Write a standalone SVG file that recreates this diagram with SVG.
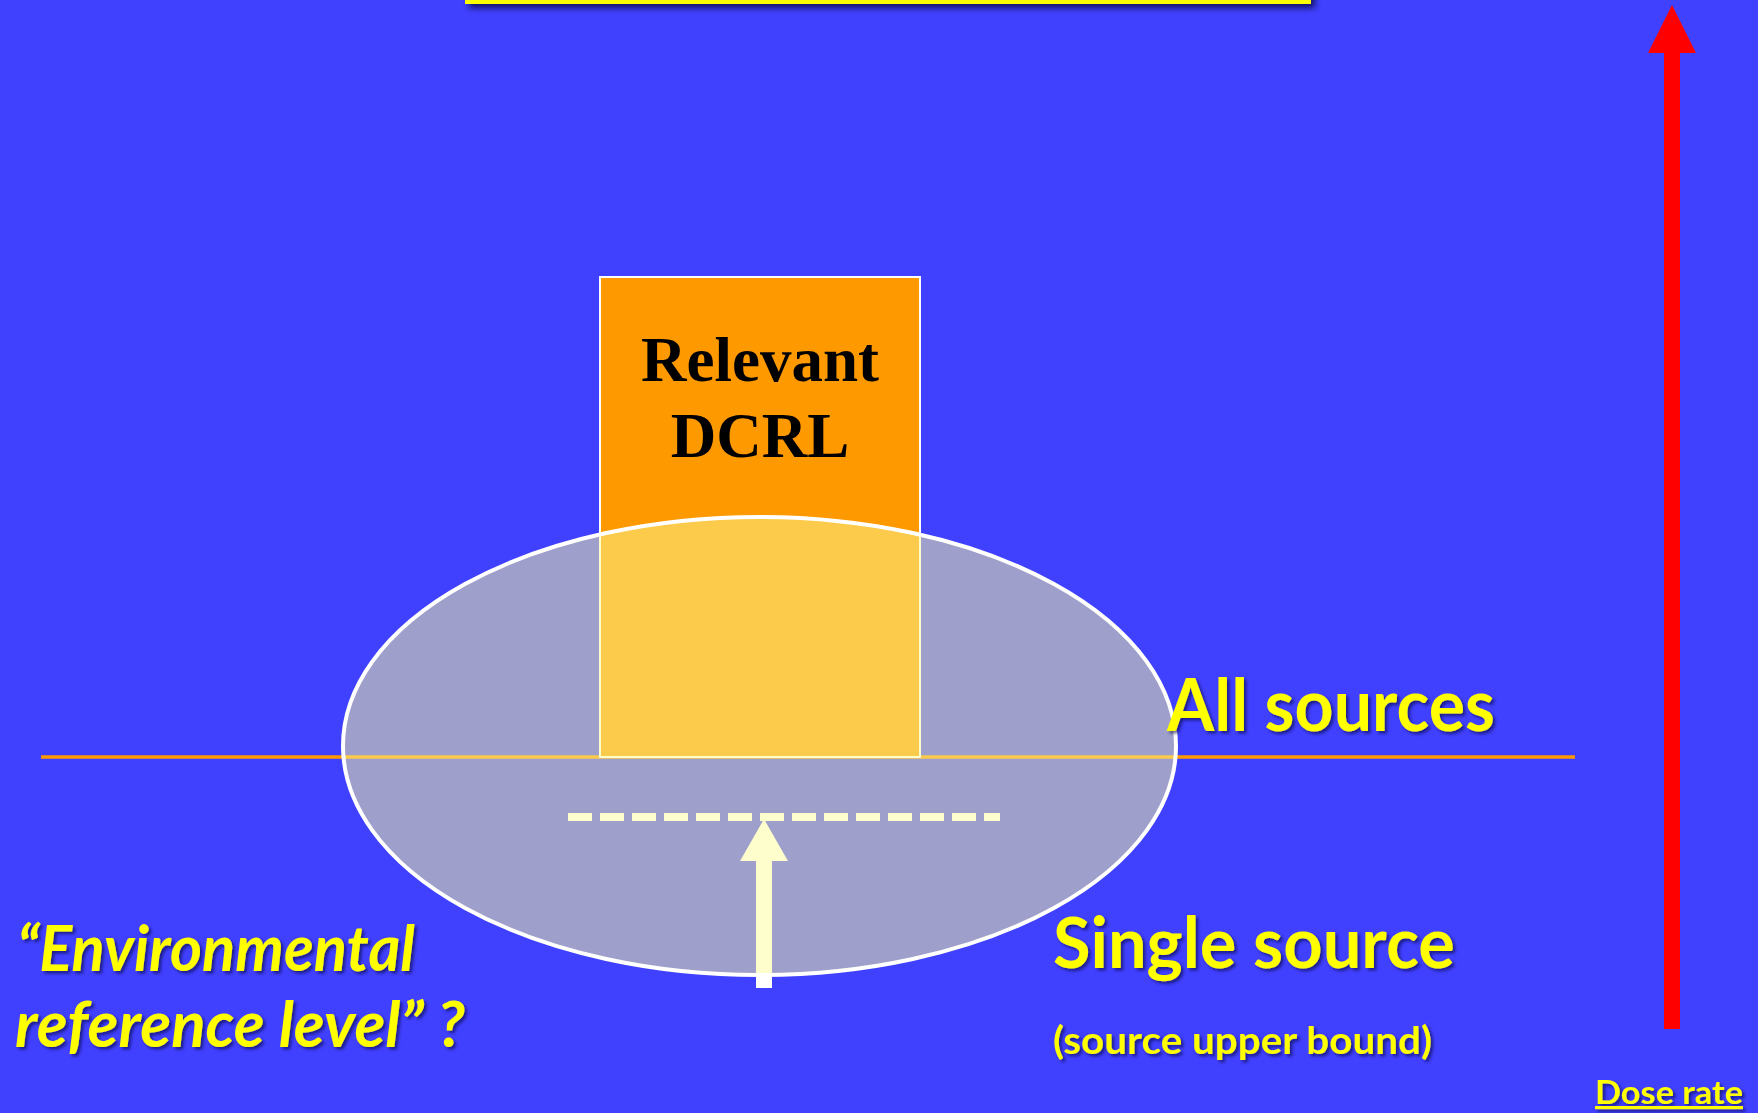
<svg xmlns="http://www.w3.org/2000/svg" width="1758" height="1113" viewBox="0 0 1758 1113">
  <style>
    .lbl { font-family: Lato, "Open Sans", "Liberation Sans", sans-serif; font-weight: bold; fill: #FFFF00; filter: url(#shadow); }
    .ital { font-style: italic; }
    .dcrl { font-family: "Liberation Serif", "Times New Roman", serif; font-weight: bold; font-size: 63px; fill: #000000; text-anchor: middle; }
  </style>
  <defs>
    <filter id="shadow" x="-10%" y="-20%" width="130%" height="160%">
      <feDropShadow dx="2.5" dy="2.5" stdDeviation="1.5" flood-color="#000030" flood-opacity="0.55"/>
    </filter>
    <filter id="barShadow" x="-5%" y="-100%" width="110%" height="400%">
      <feDropShadow dx="4" dy="4" stdDeviation="3" flood-color="#000020" flood-opacity="0.7"/>
    </filter>
  </defs>
  <rect x="0" y="0" width="1758" height="1113" fill="#4040FF"/>

  <g id="top-bar">
    <rect x="465" y="-20" width="846" height="24" fill="#FFFF00" filter="url(#barShadow)"/>
  </g>

  <g id="connectors">
    <line id="all-sources-line" x1="41" y1="757" x2="1575" y2="757" stroke="#FF9900" stroke-width="3.5"/>
    <line id="single-source-line" x1="568" y1="817" x2="1000" y2="817" stroke="#FFFFFF" stroke-width="8" stroke-dasharray="24 8"/>
    <polygon id="up-arrow" points="756,988 756,861 740,861 764,819 788,861 772,861 772,988" fill="#FFFFFF"/>
    <polygon id="dose-arrow" points="1664,1029 1664,53 1648,53 1672,5 1696,53 1680,53 1680,1029" fill="#FF0000"/>
  </g>

  <g id="dcrl-box">
    <rect x="600" y="277" width="320" height="480" fill="#FF9900" stroke="#FFFFFF" stroke-width="2"/>
    <text class="dcrl" x="760" y="381">Relevant</text>
    <text class="dcrl" x="760" y="457">DCRL</text>
  </g>

  <g id="ellipse">
    <ellipse cx="759.5" cy="746" rx="416.5" ry="229" fill="#FCFE97" fill-opacity="0.5" stroke="#FFFFFF" stroke-width="4"/>
  </g>

  <g id="all-sources">
    <text class="lbl" x="1167" y="731" font-size="72" textLength="328" lengthAdjust="spacingAndGlyphs">All sources</text>
  </g>
  <g id="single-source">
    <text class="lbl" x="1053" y="968" font-size="70" textLength="402" lengthAdjust="spacingAndGlyphs">Single source</text>
    <text class="lbl" x="1053" y="1054" font-size="38" textLength="379" lengthAdjust="spacingAndGlyphs">(source upper bound)</text>
  </g>
  <g id="environmental">
    <text class="lbl ital" x="17" y="971" font-size="64" textLength="398" lengthAdjust="spacingAndGlyphs">“Environmental</text>
    <text class="lbl ital" x="15" y="1047" font-size="64" textLength="450" lengthAdjust="spacingAndGlyphs">reference level” ?</text>
  </g>
  <g id="dose-rate">
    <text class="lbl" x="1595" y="1104" font-size="32" textLength="148" lengthAdjust="spacingAndGlyphs" text-decoration="underline">Dose rate</text>
  </g>
</svg>
